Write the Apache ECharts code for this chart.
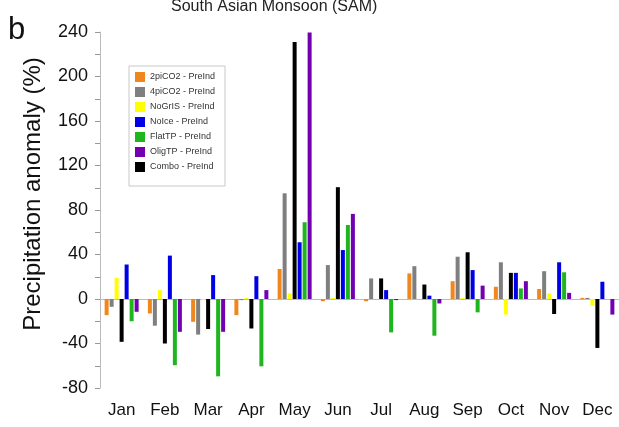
<!DOCTYPE html>
<html>
<head>
<meta charset="utf-8">
<script src="https://cdn.jsdelivr.net/npm/echarts@6/dist/echarts.min.js"></script>
<style>
  html, body { margin: 0; padding: 0; background: #fff; }
  #chart { width: 619px; height: 427px; }
</style>
</head>
<body>
<div id="chart"></div>
<script>
// months on the x axis
var months = ['Jan', 'Feb', 'Mar', 'Apr', 'May', 'Jun', 'Jul', 'Aug', 'Sep', 'Oct', 'Nov', 'Dec'];

var pi2CO2 = [-14.5, -13, -20.5, -14.5, 27, -2, -2, 23, 16, 11, 9, 1];
var pi4CO2 = [-7, -24, -32, -1, 95, 30.5, 18.5, 29.5, 38, 33, 25, 1];
var noGrIS = [19, 8, -1, 1, 5, 1, 0, 0, 1, -14, 5, -6];
var combo = [-38.5, -40, -27, -26.5, 231, 100.5, 18.5, 13, 42, 23.5, -13.5, -44];
var noIce = [31, 39, 21.5, 20.5, 51, 44, 8, 3, 26, 23.5, 33, 15.5];
var flatTP = [-20, -59.5, -69.5, -60.5, 69, 66.5, -30, -33, -12, 9.5, 24, 0];
var oligTP = [-11.5, -29.5, -29.5, 8, 239.5, 76.5, -1, -4, 12, 16, 5.5, -14];

var legendOrder = ['2piCO2 - PreInd', '4piCO2 - PreInd', 'NoGrIS - PreInd', 'NoIce - PreInd',
    'FlatTP - PreInd', 'OligTP - PreInd', 'Combo - PreInd'];

var font = 'Liberation Sans, Arial, sans-serif';

var bar = function (name, data, color) {
    return {
        name: name,
        type: 'bar',
        data: data,
        barWidth: 4,
        barGap: '25%',
        itemStyle: {color: color}
    };
};

var myChart = echarts.init(document.getElementById('chart'));
myChart.setOption({
    animation: false,
    textStyle: {fontFamily: font},
    title: {
        text: 'South Asian Monsoon (SAM)',
        left: 166,
        top: -6,
        textStyle: {fontSize: 16, fontWeight: 'normal', color: '#222', fontFamily: font}
    },
    graphic: [
        {type: 'text', left: 8, top: 15, style: {text: 'b', fontSize: 31, fill: '#111', fontFamily: font}},
        {
            type: 'text', x: 33, y: 194, rotation: Math.PI / 2,
            style: {
                text: 'Precipitation anomaly (%)', fontSize: 24, fill: '#111', fontFamily: font,
                textAlign: 'center', textVerticalAlign: 'middle'
            }
        }
    ],
    legend: {
        data: legendOrder,
        orient: 'vertical',
        left: 129,
        top: 66,
        itemWidth: 10,
        itemHeight: 10,
        itemGap: 5,
        icon: 'rect',
        padding: [6, 10, 14, 6],
        borderColor: '#c8c8c8',
        borderWidth: 1,
        textStyle: {fontSize: 9, color: '#333', fontFamily: font}
    },
    grid: {left: 100, right: -1, top: 32, bottom: 39},
    xAxis: {
        type: 'category',
        data: months,
        axisLine: {lineStyle: {color: '#bbb'}},
        axisTick: {show: false},
        axisLabel: {fontSize: 17, color: '#111', margin: 14}
    },
    yAxis: {
        type: 'value',
        min: -80,
        max: 240,
        interval: 40,
        axisLine: {show: true, lineStyle: {color: '#bbb'}},
        axisTick: {show: true, length: 5, lineStyle: {color: '#999'}},
        minorTick: {show: true, splitNumber: 2, length: 5, lineStyle: {color: '#999'}},
        splitLine: {show: false},
        axisLabel: {fontSize: 18, color: '#111', margin: 12}
    },
    series: [
        bar('2piCO2 - PreInd', pi2CO2, '#f0871e'),
        bar('4piCO2 - PreInd', pi4CO2, '#7f7f7f'),
        bar('NoGrIS - PreInd', noGrIS, '#ffff00'),
        bar('Combo - PreInd', combo, '#000000'),
        bar('NoIce - PreInd', noIce, '#0000e6'),
        bar('FlatTP - PreInd', flatTP, '#1fb51f'),
        bar('OligTP - PreInd', oligTP, '#7200b0')
    ]
});
</script>
</body>
</html>
